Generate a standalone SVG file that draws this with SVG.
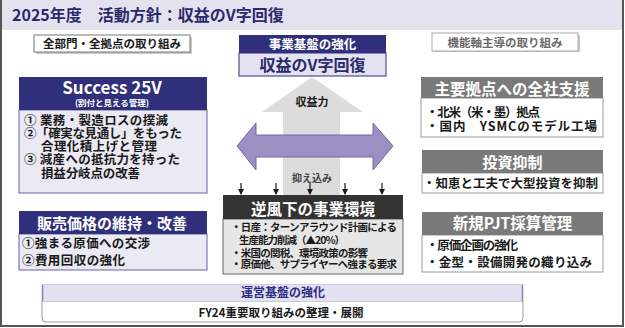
<svg xmlns="http://www.w3.org/2000/svg" width="625" height="328" viewBox="0 0 625 328">
<style>
text{font-family:"Noto Sans CJK JP","Noto Sans",sans-serif;font-weight:700;}
.c{text-anchor:middle;}
.w{fill:#ffffff;}
.k{fill:#1a1a1a;}
.n{fill:#2b2a6b;}
.navy{fill:#302f7b;}
.lav{fill:#ebe9f4;stroke:#6b63a6;stroke-width:1;}
.gh{fill:#7a7a7a;}
.wb{fill:#ffffff;stroke:#9a9a9a;stroke-width:1;}
.shadow{fill:#c9c9c9;}
</style>
<defs>
<marker id="ah" viewBox="0 0 6 6" refX="5" refY="3" markerWidth="6" markerHeight="6" orient="auto" markerUnits="userSpaceOnUse">
<path d="M0,0 L6,3 L0,6 Z" fill="#1a1a1a"/>
</marker>
</defs>
<rect x="0" y="0" width="625" height="328" fill="#ffffff"/>
<rect x="1" y="0" width="622" height="30" fill="#e4e2ef"/>
<path d="M1,0 V326 H623 V0" fill="none" stroke="#555555" stroke-width="2"/>
<text x="12" y="21" font-size="16" class="n">2025年度　活動方針：収益のV字回復</text>

<g id="label-left">
<rect x="36" y="37" width="156" height="17" class="shadow"/>
<rect x="34" y="35" width="156" height="17" fill="#ffffff" stroke="#777" stroke-width="1"/>
<text x="112" y="47.5" font-size="11.5" class="c k">全部門・全拠点の取り組み</text>
</g>

<g id="label-right">
<rect x="434" y="35" width="146" height="17" class="shadow"/>
<rect x="432" y="33" width="146" height="18" fill="#ffffff" stroke="#aaa" stroke-width="1"/>
<text x="505" y="46.5" font-size="11.5" class="c" fill="#6a6a6a">機能軸主導の取り組み</text>
</g>

<g id="connectors">
<polygon points="312,77 363,112 340,112 340,196 283,196 283,112 262,112" fill="#dcdcdc"/>
<polygon points="237,146 256,123 256,135 373,135 373,123 393,146 373,170 373,157 256,157 256,170" fill="#9c90c3" stroke="#7467aa" stroke-width="1"/>
<g stroke="#1a1a1a" stroke-width="1.2" marker-end="url(#ah)">
<line x1="241" y1="183" x2="241" y2="194"/>
<line x1="276" y1="183" x2="276" y2="194"/>
<line x1="310" y1="183" x2="310" y2="194"/>
<line x1="345" y1="183" x2="345" y2="194"/>
<line x1="382" y1="183" x2="382" y2="194"/>
</g>
<text x="312" y="105.5" font-size="11" class="c k">収益力</text>
<text x="312" y="181.5" font-size="10" class="c" fill="#444" font-weight="500">抑え込み</text>
</g>

<g id="center-top">
<rect x="239" y="35" width="147" height="18" class="navy"/>
<rect x="239" y="53" width="147" height="23" fill="#e4e2f0" stroke="#302f7b" stroke-width="1"/>
<text x="312.5" y="48.5" font-size="12.5" class="c w">事業基盤の強化</text>
<text x="312.5" y="71" font-size="16" class="c n">収益のV字回復</text>
</g>

<g id="success">
<rect x="19" y="110" width="188" height="83" class="lav"/>
<rect x="19" y="77" width="188" height="33" class="navy"/>
<text x="112" y="94" font-size="17" class="c w" font-family="Noto Sans,sans-serif" font-weight="600">Success 25V</text>
<text x="112" y="106" font-size="8.5" class="c w">(割付と見える管理)</text>
<text x="24" y="124.5" font-size="12.5" class="k" textLength="144">① 業務・製造ロスの撲滅</text>
<text x="24" y="137.5" font-size="12.5" class="k" textLength="158">②「確実な見通し」をもった</text>
<text x="41" y="150.5" font-size="12.5" class="k" textLength="116">合理化積上げと管理</text>
<text x="24" y="163.5" font-size="12.5" class="k" textLength="156">③ 減産への抵抗力を持った</text>
<text x="41" y="177.5" font-size="12.5" class="k" textLength="99">損益分岐点の改善</text>
</g>

<g id="pricing">
<rect x="19" y="234" width="188" height="36" class="lav"/>
<rect x="19" y="211" width="188" height="23" class="navy"/>
<text x="112" y="228.5" font-size="15" class="c w">販売価格の維持・改善</text>
<text x="22" y="247.5" font-size="12.5" class="k" textLength="128">①強まる原価への交渉</text>
<text x="22" y="264.5" font-size="12.5" class="k" textLength="103">②費用回収の強化</text>
</g>

<g id="headwind">
<rect x="223" y="219" width="180" height="55" fill="#e6e6e6" stroke="#666" stroke-width="1"/>
<rect x="223" y="195" width="180" height="24" fill="#333333"/>
<text x="313" y="215" font-size="15.5" class="c w">逆風下の事業環境</text>
<text x="231" y="230.8" font-size="10.5" class="k" textLength="166">・日産：ターンアラウンド計画による</text>
<text x="239" y="243.5" font-size="10.5" class="k" textLength="106">生産能力削減（▲20%）</text>
<text x="231" y="256.5" font-size="10.5" class="k" textLength="137">・米国の関税、環境政策の影響</text>
<text x="231" y="268" font-size="10.5" class="k" textLength="166">・原価他、サプライヤーへ強まる要求</text>
</g>

<g id="support">
<rect x="421" y="98" width="182" height="39" class="wb"/>
<rect x="421" y="77" width="182" height="21" class="gh"/>
<text x="512" y="94.5" font-size="15.5" class="c w">主要拠点への全社支援</text>
<text x="426" y="116.5" font-size="12.5" class="k" textLength="114">・北米（米・墨）拠点</text>
<text x="426" y="130.5" font-size="12.5" class="k" textLength="171">・国内　YSMCのモデル工場</text>
</g>

<g id="invest">
<rect x="422" y="173" width="181" height="20" class="wb"/>
<rect x="422" y="150" width="181" height="23" class="gh"/>
<text x="512.5" y="167.5" font-size="15" class="c w">投資抑制</text>
<text x="423" y="187.5" font-size="12.5" class="k" textLength="175">・知恵と工夫で大型投資を抑制</text>
</g>

<g id="newpjt">
<rect x="422" y="235" width="181" height="37" class="wb"/>
<rect x="422" y="212" width="181" height="23" class="gh"/>
<text x="512.5" y="229" font-size="15.5" class="c w">新規PJT採算管理</text>
<text x="426" y="249.5" font-size="12.5" class="k" textLength="92">・原価企画の強化</text>
<text x="426" y="266.5" font-size="12.5" class="k" textLength="166">・金型・設備開発の織り込み</text>
</g>

<g id="foundation">
<path d="M42,301 V318 Q42,322 46,322 H519 Q523,322 523,318 V301 Z" fill="#ffffff" stroke="#9a9a9a" stroke-width="1"/>
<rect x="42" y="284" width="481" height="17" fill="#e3e0f0"/>
<line x1="42.5" y1="284" x2="42.5" y2="301" stroke="#8a80bb" stroke-width="1.5"/>
<line x1="522.5" y1="284" x2="522.5" y2="301" stroke="#8a80bb" stroke-width="1.5"/>
<line x1="42" y1="284.5" x2="523" y2="284.5" stroke="#d0cce6" stroke-width="1"/>
<text x="283" y="297" font-size="12" class="c" fill="#2f2e86">運営基盤の強化</text>
<text x="281" y="317" font-size="11.5" class="c k">FY24重要取り組みの整理・展開</text>
</g>
</svg>
